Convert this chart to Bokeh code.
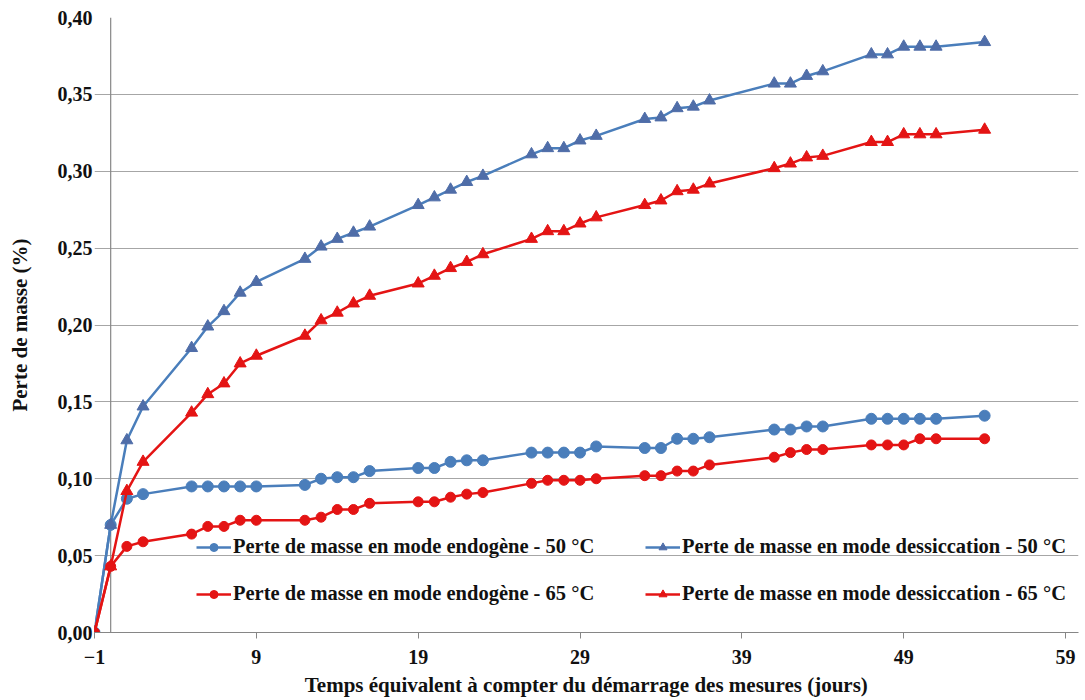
from bokeh.plotting import figure
from bokeh.models import FixedTicker, CustomJSTickFormatter, Span, Legend, LegendItem, Range1d
from bokeh.embed import file_html
from bokeh.resources import INLINE

# ---- data ----
days = [-1, 0, 1, 2, 5, 6, 7, 8, 9, 12, 13, 14, 15, 16, 19, 20, 21, 22, 23,
        26, 27, 28, 29, 30, 33, 34, 35, 36, 37, 41, 42, 43, 44, 47, 48, 49, 50, 51, 54]

endo_50 = [0, 0.070, 0.087, 0.090, 0.095, 0.095, 0.095, 0.095, 0.095, 0.096, 0.100, 0.101, 0.101,
           0.105, 0.107, 0.107, 0.111, 0.112, 0.112, 0.117, 0.117, 0.117, 0.117, 0.121, 0.120,
           0.120, 0.126, 0.126, 0.127, 0.132, 0.132, 0.134, 0.134, 0.139, 0.139, 0.139, 0.139,
           0.139, 0.141]

dess_50 = [0, 0.070, 0.125, 0.147, 0.185, 0.199, 0.209, 0.221, 0.228, 0.243, 0.251, 0.256, 0.260,
           0.264, 0.278, 0.283, 0.288, 0.293, 0.297, 0.311, 0.315, 0.315, 0.320, 0.323, 0.334,
           0.335, 0.341, 0.342, 0.346, 0.357, 0.357, 0.362, 0.365, 0.376, 0.376, 0.381, 0.381,
           0.381, 0.384]

endo_65 = [0, 0.043, 0.056, 0.059, 0.064, 0.069, 0.069, 0.073, 0.073, 0.073, 0.075, 0.080, 0.080,
           0.084, 0.085, 0.085, 0.088, 0.090, 0.091, 0.097, 0.099, 0.099, 0.099, 0.100, 0.102,
           0.102, 0.105, 0.105, 0.109, 0.114, 0.117, 0.119, 0.119, 0.122, 0.122, 0.122, 0.126,
           0.126, 0.126]

dess_65 = [0, 0.043, 0.092, 0.111, 0.143, 0.155, 0.162, 0.175, 0.180, 0.193, 0.203, 0.208, 0.214,
           0.219, 0.227, 0.232, 0.237, 0.241, 0.246, 0.256, 0.261, 0.261, 0.266, 0.270, 0.278,
           0.281, 0.287, 0.288, 0.292, 0.302, 0.305, 0.309, 0.310, 0.319, 0.319, 0.324, 0.324,
           0.324, 0.327]

x_ticks = [-1, 9, 19, 29, 39, 49, 59]
y_ticks = [0, 0.05, 0.10, 0.15, 0.20, 0.25, 0.30, 0.35, 0.40]

labels = {
    "endo_50": "Perte de masse en mode endogène - 50 °C",
    "dess_50": "Perte de masse en mode dessiccation - 50 °C",
    "endo_65": "Perte de masse en mode endogène - 65 °C",
    "dess_65": "Perte de masse en mode dessiccation - 65 °C",
}
x_title = "Temps équivalent à compter du démarrage des mesures (jours)"
y_title = "Perte de masse (%)"

# ---- styles ----
BLUE = "#4A7EBB"
BLUE_TRI = "#4F6DA8"
RED = "#E41414"
FONT = "'Liberation Serif', 'Times New Roman', serif"

p = figure(width=1085, height=700, output_backend="svg", toolbar_location=None,
           x_range=Range1d(-1, 59.8), y_range=Range1d(0, 0.40),
           min_border_left=94, min_border_right=7, min_border_top=17, min_border_bottom=68)
p.outline_line_color = None
p.background_fill_color = "white"
p.border_fill_color = "white"
p.xgrid.visible = False
p.ygrid.grid_line_color = "#A6A6A6"
p.ygrid.grid_line_width = 1.2

p.xaxis.ticker = FixedTicker(ticks=x_ticks)
p.yaxis.ticker = FixedTicker(ticks=y_ticks)
p.yaxis.formatter = CustomJSTickFormatter(code="return tick.toFixed(2).replace('.', ',');")

for ax in (p.xaxis[0], p.yaxis[0]):
    ax.major_label_text_font = FONT
    ax.major_label_text_font_style = "bold"
    ax.major_label_text_font_size = "20px"
    ax.major_label_text_color = "#111111"
    ax.axis_label_text_font = FONT
    ax.axis_label_text_font_style = "bold"
    ax.axis_label_text_font_size = "21px"
    ax.axis_label_text_color = "#111111"
    ax.minor_tick_line_color = None

p.xaxis.axis_label = x_title
p.yaxis.axis_label = y_title
p.xaxis.axis_line_color = "#868686"
p.xaxis.major_tick_line_color = "#868686"
p.xaxis.major_tick_out = 6
p.xaxis.major_tick_in = 0
p.xaxis.major_label_standoff = 11
p.xaxis.axis_label_standoff = 6

p.yaxis.axis_line_color = None
p.yaxis.major_tick_line_color = None
p.yaxis.major_tick_out = 0
p.yaxis.major_tick_in = 0
p.yaxis.major_label_standoff = 2
p.yaxis.axis_label_standoff = 23

p.add_layout(Span(location=0, dimension="height", line_color="#868686", line_width=1.2,
                  level="underlay"))

def series(y, color, mcolor, marker, size):
    l = p.line(days, y, line_color=color, line_width=2.5)
    s = p.scatter(days, y, marker=marker, size=size, fill_color=mcolor, line_color=mcolor)
    return [l, s]

r_e50 = series(endo_50, BLUE, BLUE, "circle", 11)
r_d50 = series(dess_50, BLUE, BLUE_TRI, "triangle", 12)
r_e65 = series(endo_65, RED, RED, "circle", 10)
r_d65 = series(dess_65, RED, RED, "triangle", 12)

def make_legend(items, y):
    lg = Legend(items=items, orientation="horizontal", location=(102, y),
                margin=0, padding=0, spacing=0, glyph_width=35, glyph_height=20,
                label_standoff=2, label_width=412, label_height=20,
                label_text_font=FONT, label_text_font_style="bold",
                label_text_font_size="20.5px", label_text_color="#111111",
                background_fill_alpha=0, border_line_alpha=0)
    p.add_layout(lg, "center")

make_legend([LegendItem(label=labels["endo_50"], renderers=r_e50),
             LegendItem(label=labels["dess_50"], renderers=r_d50)], 74)
make_legend([LegendItem(label=labels["endo_65"], renderers=r_e65),
             LegendItem(label=labels["dess_65"], renderers=r_d65)], 27)

open("out.html", "w").write(file_html(p, INLINE))
